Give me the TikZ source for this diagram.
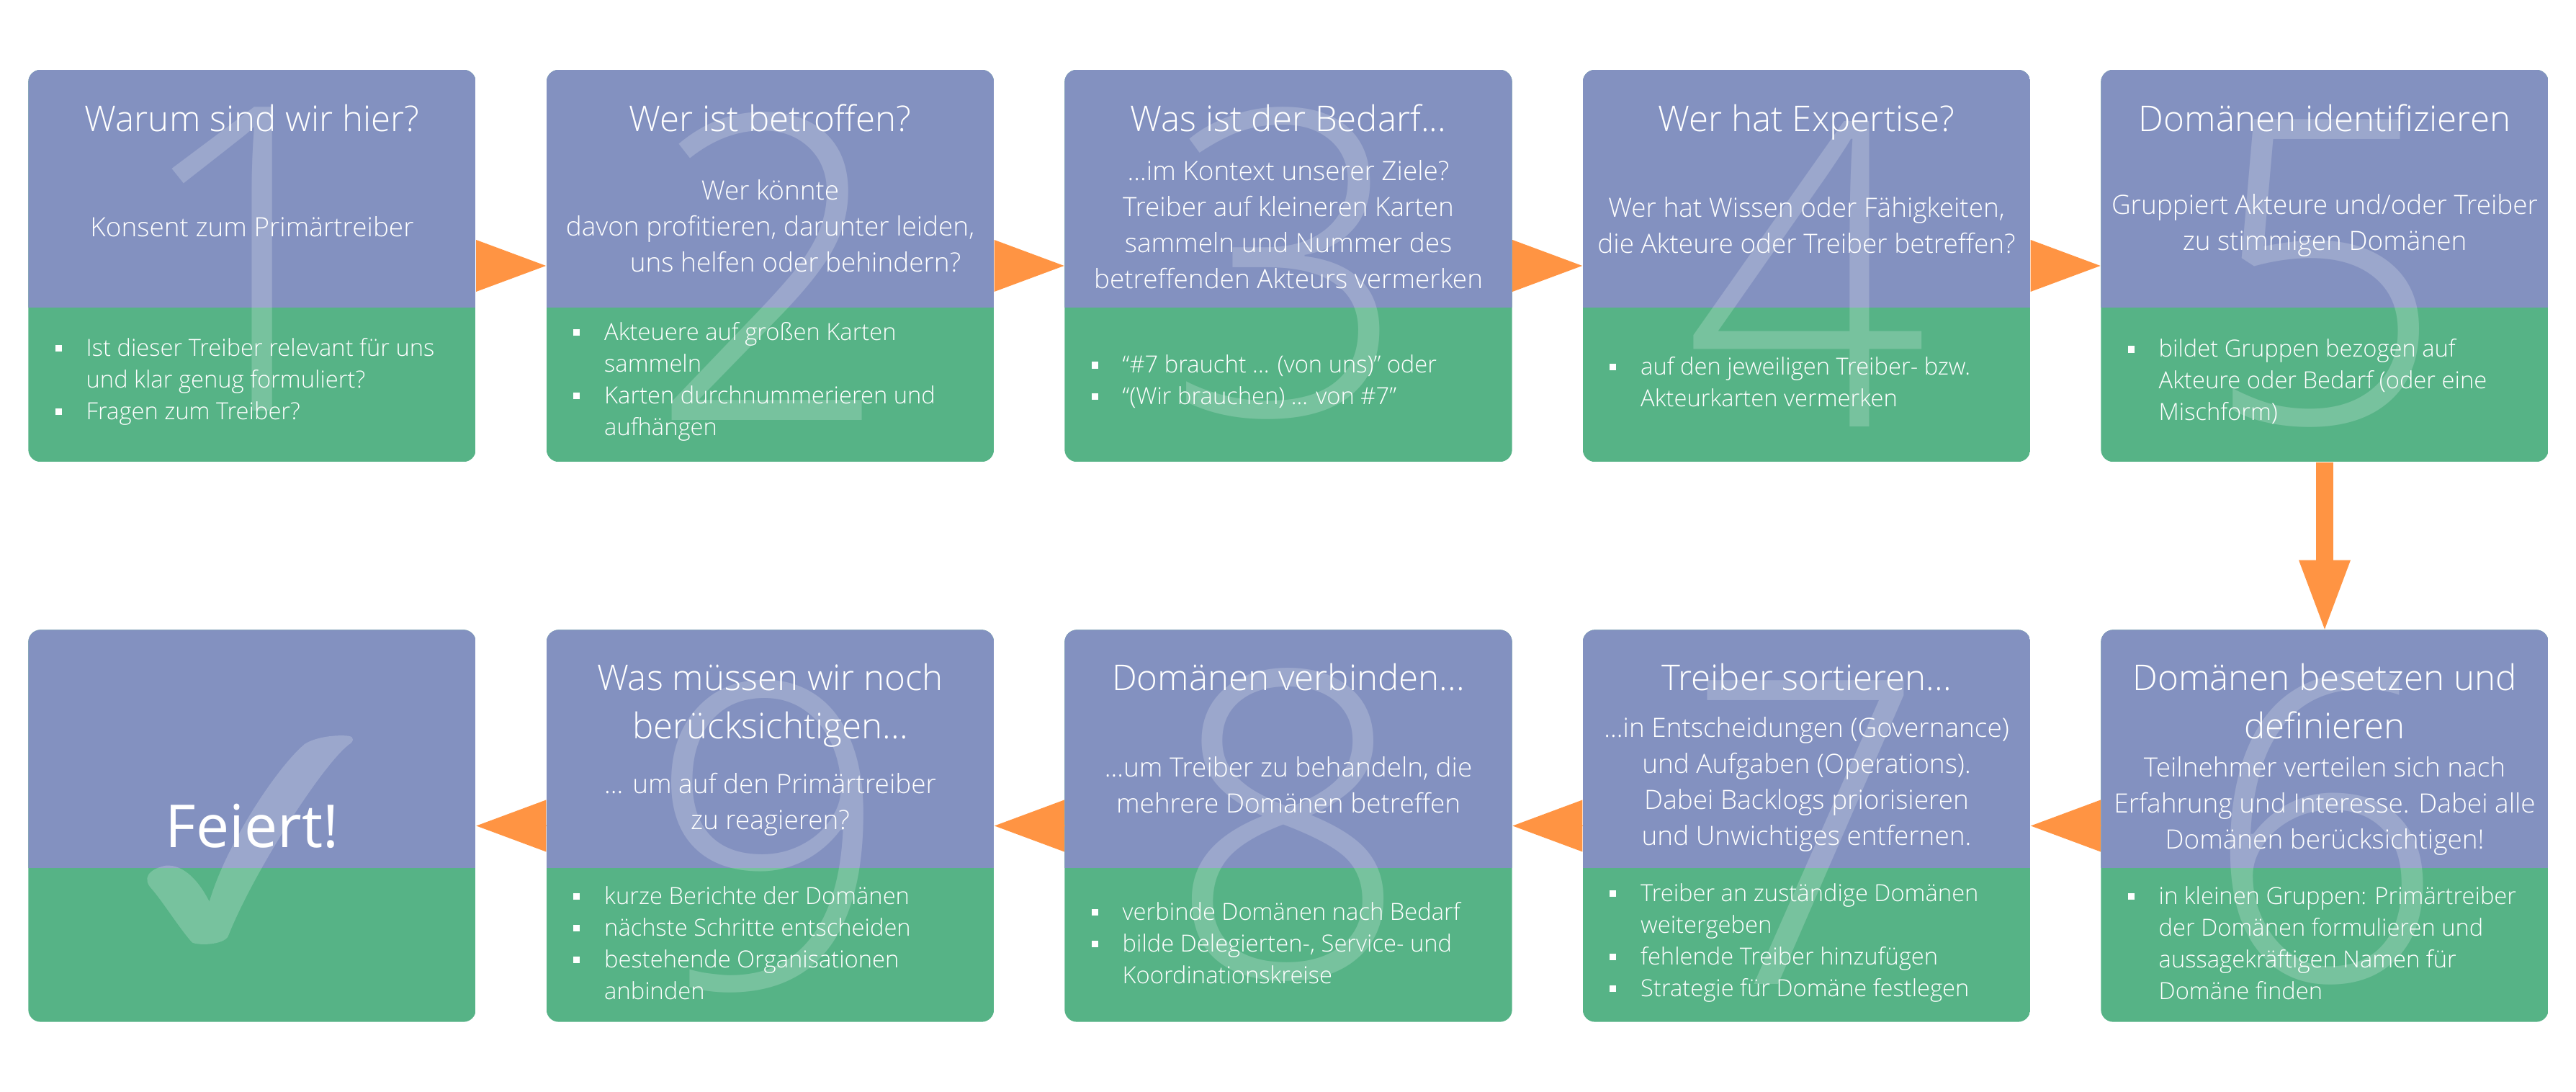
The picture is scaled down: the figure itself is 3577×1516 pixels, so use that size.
\documentclass[tikz,border=0pt]{standalone}
\usepackage{fontspec}
\setmainfont{Open Sans Light}
\newfontfamily\regfont{Open Sans}
\usetikzlibrary{arrows.meta,calc}

\definecolor{stepblue}{HTML}{8391C0}
\definecolor{stepgreen}{HTML}{56B386}
\definecolor{steporange}{HTML}{FF9443}

\newcommand\bul{\llap{\rule[1.8pt]{2.6pt}{2.6pt}\hspace{9.6pt}}}

\tikzset{
  card/.style={minimum width=6.21cm, minimum height=5.44cm, inner sep=0pt,
    rounded corners=0.17cm,
    path picture={
      \fill[stepgreen, sharp corners] (path picture bounding box.south west) rectangle (path picture bounding box.north east);
      \fill[stepblue, sharp corners] (path picture bounding box.north west) rectangle ([yshift=-3.3cm]path picture bounding box.north east);
    }},
  digit/.style={text=white, text opacity=0.2, inner sep=0pt,
    font=\fontsize{168}{168}\selectfont},
  title/.style={text=white, inner sep=0pt, align=center, anchor=base,
    font=\fontsize{14}{19.06}\selectfont},
  body/.style={text=white, inner sep=0pt, align=center,
    font=\fontsize{10.5}{14.2}\selectfont},
  bullets/.style={text=white, inner sep=0pt, align=left, anchor=west,
    font=\fontsize{9.3}{12.5}\selectfont},
  nextstep/.style={draw=steporange, line width=0.1pt,
    -{Triangle[length=0.97cm, width=0.72cm, line width=0pt]}},
  downstep/.style={draw=steporange, line width=0.24cm,
    -{Triangle[length=0.96cm, width=0.72cm, line width=0pt]}}
}

\begin{document}
\begin{tikzpicture}[x=0.01cm, y=-0.01cm]
\useasboundingbox (0,0) rectangle (3577,1516);
\fill[white] (0,0) rectangle (3577,1516);

\node[card] (s1) at (350,369) {};
\node[card] (s2) at (1069.5,369) {};
\node[card] (s3) at (1789,369) {};
\node[card] (s4) at (2508.5,369) {};
\node[card] (s5) at (3228,369) {};
\node[card] (s6) at (3228,1146.5) {};
\node[card] (s7) at (2508.5,1146.5) {};
\node[card] (s8) at (1789,1146.5) {};
\node[card] (s9) at (1069.5,1146.5) {};
\node[card] (s10) at (350,1146.5) {};

\draw[nextstep] (s1) -- (s2);
\draw[nextstep] (s2) -- (s3);
\draw[nextstep] (s3) -- (s4);
\draw[nextstep] (s4) -- (s5);
\draw[downstep] (s5) -- (s6);
\draw[nextstep] (s6) -- (s7);
\draw[nextstep] (s7) -- (s8);
\draw[nextstep] (s8) -- (s9);
\draw[nextstep] (s9) -- (s10);

\node[digit] (d1) at (350,360) {1};
\node[digit] (d2) at (1069.5,370) {2};
\node[digit] (d3) at (1789,365) {3};
\node[digit] (d4) at (2508.5,380) {4};
\node[digit] (d5) at (3228,380) {5};
\node[digit] (d6) at (3228,1150) {6};
\node[digit] (d7) at (2508.5,1156) {7};
\node[digit] (d8) at (1789,1145) {8};
\node[digit] (d9) at (1069.5,1161) {9};
\fill[white, opacity=0.2] (290.7,1251.7)
  .. controls (315,1170) and (385,1065) .. (423,1033)
  .. controls (440,1022) and (470,1020) .. (484,1021.7)
  .. controls (493,1023) and (491,1030) .. (484,1034)
  .. controls (445,1065) and (350,1215) .. (316.7,1300)
  .. controls (310,1312) and (275,1313) .. (266.7,1308.3)
  .. controls (250,1290) and (225,1250) .. (210,1233.3)
  .. controls (198,1220) and (205,1207) .. (230,1201.7)
  .. controls (250,1200) and (272,1215) .. (290.7,1251.7) -- cycle;

\node[title] (t1) at (350,183) {Warum sind wir hier?};
\node[title] (t2) at (1069.5,183) {Wer ist betroffen?};
\node[title] (t3) at (1789,183) {Was ist der Bedarf...};
\node[title] (t4) at (2508.5,183) {Wer hat Expertise?};
\node[title] (t5) at (3228,183) {Domänen identifizieren};
\node[title] (t6) at (3228,1026) {Domänen besetzen und\\definieren};
\node[title] (t7) at (2508.5,959) {Treiber sortieren...};
\node[title] (t8) at (1789,959) {Domänen verbinden...};
\node[title] (t9) at (1069.5,1026) {Was müssen wir noch\\berücksichtigen...};
\node[text=white, inner sep=0pt, font=\regfont\fontsize{23.4}{28}\selectfont] (t10) at (350,1146.5) {Feiert!};

\node[body] (b1) at (350,315) {Konsent zum Primärtreiber};
\node[body] (b2) at (1069.5,314) {Wer könnte\\davon profitieren, darunter leiden,\\\hspace*{1.9em}uns helfen oder behindern?};
\node[body] (b3) at (1789,312) {...im Kontext unserer Ziele?\\Treiber auf kleineren Karten\\sammeln und Nummer des\\betreffenden Akteurs vermerken};
\node[body] (b4) at (2508.5,313) {Wer hat Wissen oder Fähigkeiten,\\die Akteure oder Treiber betreffen?};
\node[body] (b5) at (3228,313) {Gruppiert Akteure und/oder Treiber\\zu stimmigen Domänen};
\node[body] (b6) at (3228,1119) {Teilnehmer verteilen sich nach\\Erfahrung und Interesse. Dabei alle\\Domänen berücksichtigen!};
\node[body] (b7) at (2508.5,1089) {...in Entscheidungen (Governance)\\und Aufgaben (Operations).\\Dabei Backlogs priorisieren\\und Unwichtiges entfernen.};
\node[body] (b8) at (1789,1090) {...um Treiber zu behandeln, die\\mehrere Domänen betreffen};
\node[body] (b9) at (1069.5,1117) {... um auf den Primärtreiber\\zu reagieren?};

\node[bullets] (l1) at (119,530) {\bul Ist dieser Treiber relevant für uns\\und klar genug formuliert?\\\bul Fragen zum Treiber?};
\node[bullets] (l2) at (838.5,530) {\bul Akteuere auf großen Karten\\sammeln\\\bul Karten durchnummerieren und\\aufhängen};
\node[bullets] (l3) at (1558,530) {\bul “\#7 braucht ... (von uns)” oder\\\bul “(Wir brauchen) ... von \#7”};
\node[bullets] (l4) at (2277.5,530) {\bul auf den jeweiligen Treiber- bzw.\\Akteurkarten vermerken};
\node[bullets] (l5) at (2997,530) {\bul bildet Gruppen bezogen auf\\Akteure oder Bedarf (oder eine\\Mischform)};
\node[bullets] (l6) at (2997,1309) {\bul in kleinen Gruppen: Primärtreiber\\der Domänen formulieren und\\aussagekräftigen Namen für\\Domäne finden};
\node[bullets] (l7) at (2277.5,1309) {\bul Treiber an zuständige Domänen\\weitergeben\\\bul fehlende Treiber hinzufügen\\\bul Strategie für Domäne festlegen};
\node[bullets] (l8) at (1558,1309) {\bul verbinde Domänen nach Bedarf\\\bul bilde Delegierten-, Service- und\\Koordinationskreise};
\node[bullets] (l9) at (838.5,1309) {\bul kurze Berichte der Domänen\\\bul nächste Schritte entscheiden\\\bul bestehende Organisationen\\anbinden};
\end{tikzpicture}
\end{document}
